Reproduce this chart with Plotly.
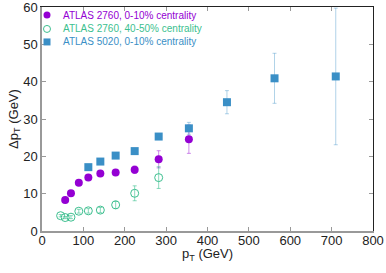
import plotly.graph_objects as go

# ATLAS 2760, 0-10% centrality
pt_a = [56, 70, 89, 112, 141, 178, 224, 282, 355]
dpt_a = [8.3, 10.1, 12.9, 14.3, 15.4, 15.7, 16.4, 19.2, 24.6]
err_a = [0.4, 0.4, 0.5, 0.5, 0.6, 0.7, 1.0, 2.3, 3.8]

# ATLAS 2760, 40-50% centrality
pt_b = [45, 56, 70, 89, 112, 141, 178, 224, 282]
dpt_b = [4.1, 3.6, 3.7, 5.3, 5.4, 5.6, 7.0, 10.1, 14.3]
err_b = [0.3, 0.3, 0.4, 0.5, 0.6, 0.7, 1.0, 2.0, 2.9]

# ATLAS 5020, 0-10% centrality
pt_c = [112, 141, 178, 224, 282, 355, 447, 562, 710]
dpt_c = [17.1, 18.6, 20.2, 21.4, 25.3, 27.5, 34.5, 40.9, 41.4]
err_c = [0.3, 0.3, 0.4, 0.5, 0.8, 1.6, 3.1, 6.7, 18.3]

labels = ["ATLAS 2760, 0-10% centrality", "ATLAS 2760, 40-50% centrality",
          "ATLAS 5020, 0-10% centrality"]

purple = "#9400D3"
green = "#3cbf8f"
blue = "#3a8fc6"
font = "Liberation Sans, Arial, sans-serif"

fig = go.Figure()
fig.add_trace(go.Scatter(
    x=pt_a, y=dpt_a, mode="markers", name=labels[0],
    marker=dict(symbol="circle", size=8, color=purple),
    error_y=dict(type="data", array=err_a, color="rgba(148,0,211,0.45)", thickness=1, width=2),
))
fig.add_trace(go.Scatter(
    x=pt_b, y=dpt_b, mode="markers", name=labels[1],
    marker=dict(symbol="circle-open", size=8, color=green, line=dict(width=1)),
    error_y=dict(type="data", array=err_b, color="rgba(60,191,143,0.6)", thickness=1, width=2),
))
fig.add_trace(go.Scatter(
    x=pt_c, y=dpt_c, mode="markers", name=labels[2],
    marker=dict(symbol="square", size=8, color=blue),
    error_y=dict(type="data", array=err_c, color="rgba(58,143,198,0.4)", thickness=1, width=2),
))

# invisible trace to activate mirror axes
fig.add_trace(go.Scatter(x=[0], y=[0], xaxis="x2", yaxis="y2", mode="markers",
                         marker=dict(opacity=0), showlegend=False, hoverinfo="skip"))

fig.update_layout(
    width=386, height=273,
    margin=dict(l=42, r=13, t=7, b=42),
    paper_bgcolor="white", plot_bgcolor="white",
    font=dict(family=font, size=13, color="#222"),
    showlegend=False,
    xaxis=dict(range=[0, 800], dtick=100, showgrid=False, zeroline=False,
               showline=True, linecolor="#999", linewidth=1.5, automargin=False,
               ticks="inside", ticklen=4, tickcolor="#999", ticklabeloverflow="allow",
               ticklabelstandoff=-3),
    yaxis=dict(range=[0, 60], dtick=10, showgrid=False, zeroline=False,
               showline=True, linecolor="#999", linewidth=1.5, automargin=False,
               ticks="inside", ticklen=4, tickcolor="#999", ticklabeloverflow="allow",
               title=dict(text="Δp<sub>T</sub> (GeV)", standoff=2, font=dict(size=13))),
    xaxis2=dict(range=[0, 800], dtick=100, overlaying="x", side="top", anchor="y",
                showgrid=False, zeroline=False, showline=True, linecolor="#222",
                linewidth=1.2, ticks="inside", ticklen=4, tickcolor="#999",
                showticklabels=False, automargin=False),
    yaxis2=dict(range=[0, 60], dtick=10, overlaying="y", side="right", anchor="x",
                showgrid=False, zeroline=False, showline=True, linecolor="#222",
                linewidth=1.2, ticks="inside", ticklen=4, tickcolor="#999",
                showticklabels=False, automargin=False),
)

# x-axis title placed to match the reference
fig.add_annotation(x=0.5, y=-0.106, xref="paper", yref="paper",
                   text="p<sub>T</sub> (GeV)", showarrow=False,
                   xanchor="center", yanchor="middle", font=dict(size=13, color="#222"))

# manual legend (compact rows as in the reference)
rows_y = [0.964, 0.902, 0.844]
sym_x = 0.0151
txt_x = 0.0574
colors = [purple, green, blue]
for i, (lab, c, yy) in enumerate(zip(labels, colors, rows_y)):
    if i == 0:
        fig.add_shape(type="circle", xref="paper", yref="paper", xsizemode="pixel",
                      ysizemode="pixel", xanchor=sym_x, yanchor=yy,
                      x0=-3.5, x1=3.5, y0=-3.5, y1=3.5, fillcolor=c, line=dict(width=0))
    elif i == 1:
        fig.add_shape(type="circle", xref="paper", yref="paper", xsizemode="pixel",
                      ysizemode="pixel", xanchor=sym_x, yanchor=yy,
                      x0=-3.5, x1=3.5, y0=-3.5, y1=3.5, fillcolor="rgba(0,0,0,0)",
                      line=dict(width=1, color=c))
    else:
        fig.add_shape(type="rect", xref="paper", yref="paper", xsizemode="pixel",
                      ysizemode="pixel", xanchor=sym_x, yanchor=yy,
                      x0=-3.5, x1=3.5, y0=-3.5, y1=3.5, fillcolor=c, line=dict(width=0))
    fig.add_annotation(x=txt_x, y=yy, xref="paper", yref="paper", text=lab,
                       showarrow=False, xanchor="left", yanchor="middle",
                       font=dict(size=10, color=c, family=font))

fig.write_html("out.html", config={"displayModeBar": False},
               post_script="document.body.style.margin='0';document.body.style.overflow='hidden';")
